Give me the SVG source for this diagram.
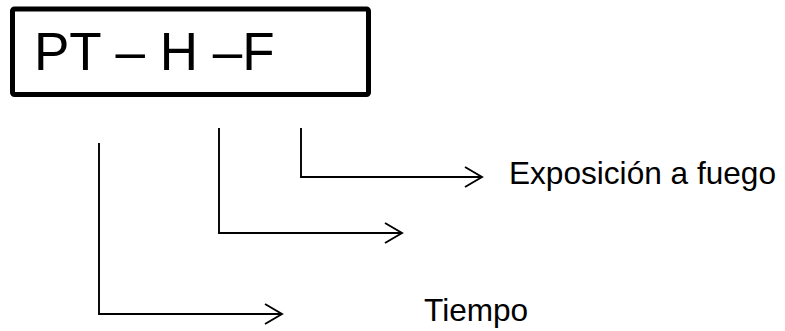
<svg xmlns="http://www.w3.org/2000/svg" width="785" height="331" viewBox="0 0 785 331">
<style>
.lbl{font-family:"Liberation Sans",Arial,sans-serif;fill:#000}
.conn{fill:none;stroke:#000;stroke-width:1.9;marker-end:url(#arr)}
</style>
<defs>
<marker id="arr" markerUnits="userSpaceOnUse" viewBox="-19 -12 21 24" markerWidth="21" markerHeight="24" refX="0" refY="0" orient="auto" overflow="visible">
<path d="M-17,-10 L0,0 L-17,10" fill="none" stroke="#000" stroke-width="1.9"/>
</marker>
</defs>
<rect width="785" height="331" fill="#fff"/>
<g id="code">
<rect x="12.5" y="9" width="356" height="85.5" rx="2" fill="#fff" stroke="#000" stroke-width="5"/>
<text class="lbl" x="34" y="70" font-size="53">PT – H –F</text>
</g>
<g id="connectors">
<path class="conn" d="M99,143 V314 H282"/>
<path class="conn" d="M219,128 V233 H402"/>
<path class="conn" d="M301,128 V177 H482"/>
</g>
<g id="exposicion">
<text class="lbl" x="509" y="184" font-size="31.6">Exposición a fuego</text>
</g>
<g id="tiempo">
<text class="lbl" x="424" y="321" font-size="31.6">Tiempo</text>
</g>
</svg>
